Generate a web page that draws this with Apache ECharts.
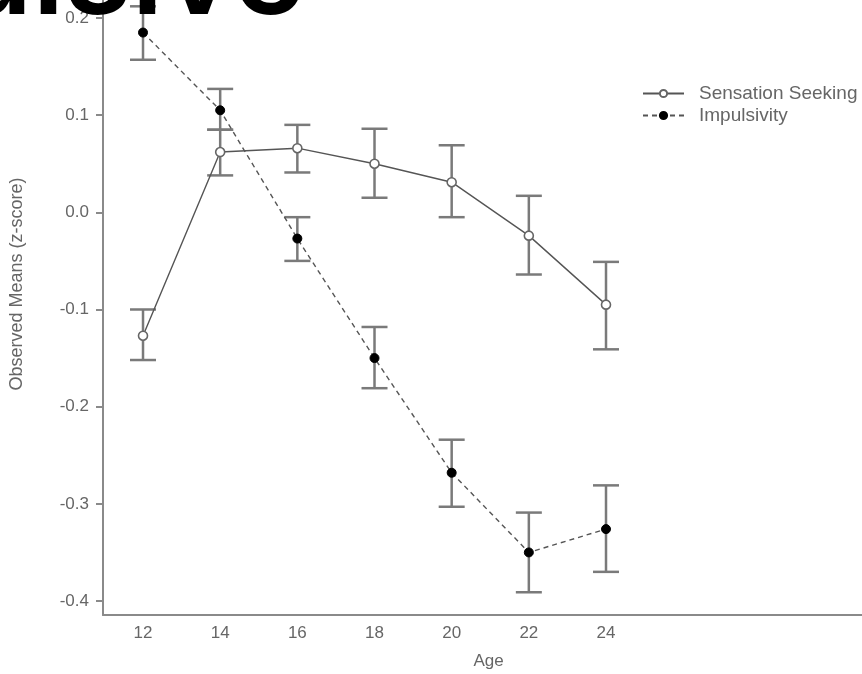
<!DOCTYPE html>
<html>
<head>
<meta charset="utf-8">
<script src="https://cdn.jsdelivr.net/npm/echarts@6/dist/echarts.min.js"></script>
<style>
  html, body { margin: 0; padding: 0; background: #fff; }
  #main { width: 862px; height: 674px; }
</style>
</head>
<body>
<div id="main"></div>
<script>
// ages on the x axis
var ages = [12, 14, 16, 18, 20, 22, 24]
var yTicks = [-0.4, -0.3, -0.2, -0.1, 0.0, 0.1, 0.2]

// Sensation Seeking (open circles)
var ssMean = [-0.127, 0.062, 0.066, 0.050, 0.031, -0.024, -0.095]
var ssLow = [-0.152, 0.038, 0.041, 0.015, -0.005, -0.064, -0.141]
var ssHigh = [-0.100, 0.085, 0.090, 0.086, 0.069, 0.017, -0.051]

// Impulsivity (filled circles)
var impMean = [0.185, 0.105, -0.027, -0.150, -0.268, -0.350, -0.326]
var impLow = [0.157, 0.085, -0.050, -0.181, -0.303, -0.391, -0.370]
var impHigh = [0.212, 0.127, -0.005, -0.118, -0.234, -0.309, -0.281]

var axisGray = '#8a8a8a'
var textGray = '#666'
var font = 'Liberation Sans, Arial, sans-serif'

function pairs(xs, ys) {
  return xs.map(function (x, i) { return [x, ys[i]] })
}

function bars(xs, lo, hi) {
  return xs.map(function (x, i) { return [x, lo[i], hi[i]] })
}

// error bar: vertical stem plus two caps
function renderBar(params, api) {
  var top = api.coord([api.value(0), api.value(2)])
  var bot = api.coord([api.value(0), api.value(1)])
  var half = 13
  var st = { stroke: '#7a7a7a', lineWidth: 2.5 }
  return {
    type: 'group',
    children: [
      { type: 'line', shape: { x1: top[0], y1: top[1], x2: bot[0], y2: bot[1] }, style: st },
      { type: 'line', shape: { x1: top[0] - half, y1: top[1], x2: top[0] + half, y2: top[1] }, style: st },
      { type: 'line', shape: { x1: bot[0] - half, y1: bot[1], x2: bot[0] + half, y2: bot[1] }, style: st }
    ]
  }
}

var myChart = echarts.init(document.getElementById('main'))
myChart.setOption({
  animation: false,
  backgroundColor: '#fff',
  grid: { left: 103, right: 0, top: 0, bottom: 59, outerBoundsMode: 'none', containLabel: false },
  graphic: [
    // big title text cut off at the top
    {
      type: 'text',
      left: -262,
      top: -84,
      z: 100,
      style: {
        text: 'Impulsive',
        font: '600 122px Inter, sans-serif',
        fill: '#000'
      }
    },
    // y axis name
    {
      type: 'text',
      x: 17,
      y: 284,
      rotation: Math.PI / 2,
      style: {
        text: 'Observed Means (z-score)',
        font: '18px Liberation Sans, Arial, sans-serif',
        fill: textGray,
        align: 'center',
        verticalAlign: 'middle'
      }
    }
  ],
  legend: {
    orient: 'vertical',
    left: 637,
    top: 79,
    itemWidth: 41,
    itemHeight: 9,
    itemGap: 3,
    textStyle: { color: textGray, fontSize: 19, fontFamily: font, padding: [0, 0, 0, 10] },
    data: ['Sensation Seeking', 'Impulsivity']
  },
  xAxis: {
    type: 'value',
    min: 10.963,
    max: 30.635,
    name: 'Age',
    nameLocation: 'middle',
    nameGap: 38,
    nameTextStyle: { color: textGray, fontSize: 17, fontFamily: font, padding: [0, 0, 0, 12] },
    splitLine: { show: false },
    axisLine: { onZero: false, lineStyle: { color: axisGray, width: 2 } },
    axisTick: { show: false },
    axisLabel: {
      customValues: ages,
      margin: 10,
      color: textGray,
      fontSize: 17,
      fontFamily: font
    }
  },
  yAxis: {
    type: 'value',
    min: -0.4144,
    max: 0.2185,
    splitLine: { show: false },
    axisLine: { onZero: false, lineStyle: { color: axisGray, width: 2 } },
    axisTick: { customValues: yTicks, length: 7, lineStyle: { color: axisGray, width: 2 } },
    axisLabel: {
      customValues: yTicks,
      margin: 14,
      color: textGray,
      fontSize: 17,
      fontFamily: font,
      formatter: function (v) { return v.toFixed(1) }
    }
  },
  series: [
    {
      type: 'custom',
      name: 'ssErr',
      renderItem: renderBar,
      data: bars(ages, ssLow, ssHigh),
      z: 1,
      silent: true
    },
    {
      type: 'custom',
      name: 'impErr',
      renderItem: renderBar,
      data: bars(ages, impLow, impHigh),
      z: 1,
      silent: true
    },
    {
      name: 'Sensation Seeking',
      type: 'line',
      data: pairs(ages, ssMean),
      symbol: 'circle',
      symbolSize: 9,
      z: 3,
      lineStyle: { color: '#555', width: 1.4 },
      itemStyle: { color: '#fff', borderColor: '#666', borderWidth: 1.6 }
    },
    {
      name: 'Impulsivity',
      type: 'line',
      data: pairs(ages, impMean),
      symbol: 'circle',
      symbolSize: 9,
      z: 3,
      lineStyle: { color: '#555', width: 1.4, type: [5, 4] },
      itemStyle: { color: '#000', borderColor: '#000', borderWidth: 1 }
    }
  ]
})
</script>
</body>
</html>
